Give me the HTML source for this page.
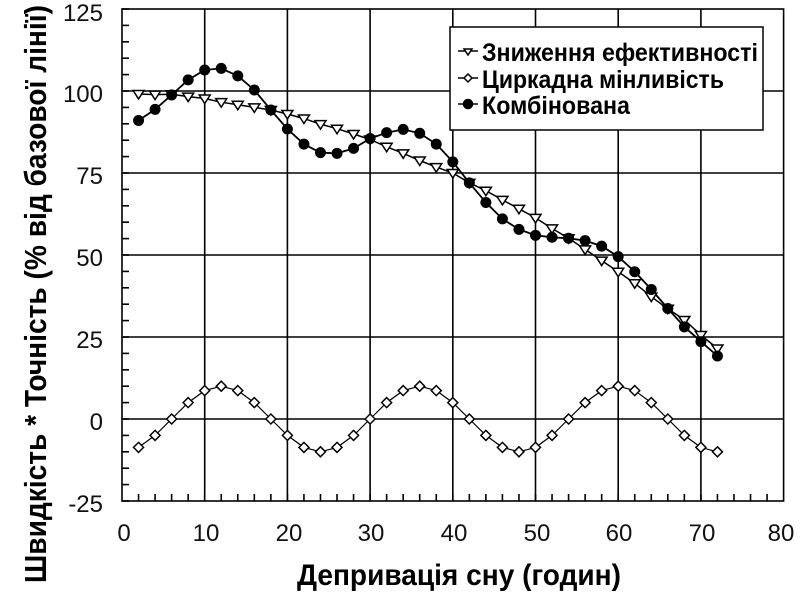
<!DOCTYPE html>
<html><head><meta charset="utf-8"><style>
html,body{margin:0;padding:0;background:#fff;}
svg{display:block;}
</style></head><body>
<svg id="s" width="800" height="597" viewBox="0 0 800 597" xmlns="http://www.w3.org/2000/svg">
<g id="grid" stroke="#000" stroke-width="1.6" fill="none"></g>
<g id="data"></g>
<g font-family="Liberation Sans, sans-serif" fill="#111" text-anchor="end">
<text x="103" y="21" style="font-size:24px">125</text>
<text x="103" y="102" style="font-size:24px">100</text>
<text x="103" y="184" style="font-size:24px">75</text>
<text x="103" y="266" style="font-size:24px">50</text>
<text x="103" y="348" style="font-size:24px">25</text>
<text x="103" y="430" style="font-size:24px">0</text>
<text x="103" y="512" style="font-size:24px">-25</text>
</g>
<g font-family="Liberation Sans, sans-serif" fill="#111" text-anchor="middle">
<text x="124" y="541" style="font-size:24px">0</text>
<text x="206" y="541" style="font-size:24px">10</text>
<text x="289" y="541" style="font-size:24px">20</text>
<text x="371" y="541" style="font-size:24px">30</text>
<text x="454" y="541" style="font-size:24px">40</text>
<text x="537" y="541" style="font-size:24px">50</text>
<text x="619" y="541" style="font-size:24px">60</text>
<text x="702" y="541" style="font-size:24px">70</text>
<text x="781" y="541" style="font-size:24px">80</text>
</g>
<text font-family="Liberation Sans, sans-serif" font-weight="bold" x="297" y="585" style="font-size:30px" textLength="324" lengthAdjust="spacingAndGlyphs">Депривація сну (годин)</text>
<text font-family="Liberation Sans, sans-serif" font-weight="bold" transform="translate(46,583) rotate(-90)" style="font-size:31px" textLength="578" lengthAdjust="spacingAndGlyphs">Швидкість * Точність (% від базової лінії)</text>
<rect x="450" y="27" width="313" height="103" fill="#fff" stroke="#000" stroke-width="1.5"/>
<g font-family="Liberation Sans, sans-serif" font-weight="bold">
<text x="482" y="61" style="font-size:25px" textLength="276" lengthAdjust="spacingAndGlyphs">Зниження ефективності</text>
<text x="482" y="88" style="font-size:25px" textLength="242" lengthAdjust="spacingAndGlyphs">Циркадна мінливість</text>
<text x="482" y="114" style="font-size:25px" textLength="148" lengthAdjust="spacingAndGlyphs">Комбінована</text>
</g>
<g stroke="#000" stroke-width="1.5">
<line x1="458" y1="51" x2="478" y2="51"/><polygon points="464,49 472,49 468,55" fill="#fff"/>
<line x1="458" y1="78" x2="478" y2="78"/><polygon points="468,74 472,78 468,82 464,78" fill="#fff"/>
<line x1="458" y1="104" x2="478" y2="104"/><circle cx="468" cy="104" r="4.5" fill="#000"/>
</g>
</svg>
<script>
var X=function(h){return 122+8.27*h}, Y=function(v){return 419-3.28*v};
var ns="http://www.w3.org/2000/svg";
function el(p,n,a){var e=document.createElementNS(ns,n);for(var k in a)e.setAttribute(k,a[k]);p.appendChild(e);return e;}
var g=document.getElementById('grid');
el(g,'rect',{x:X(0),y:Y(125),width:X(80)-X(0),height:Y(-25)-Y(125)});
[0,25,50,75,100].forEach(function(v){el(g,'line',{x1:X(0),x2:X(80),y1:Y(v),y2:Y(v)})});
for(var h=10;h<80;h+=10)el(g,'line',{x1:X(h),x2:X(h),y1:Y(125),y2:Y(-25)});
for(var v=-25;v<=125;v+=5)el(g,'line',{x1:X(0),x2:X(0)+7,y1:Y(v),y2:Y(v)});
for(var h=2;h<80;h+=2)el(g,'line',{x1:X(h),x2:X(h),y1:Y(-25),y2:Y(-25)-7});
var perf=[99.1,98.9,99,98.3,97.7,96.6,95.8,95,94.2,93,91.6,89.9,88.5,86.9,85.2,83,81,78.8,76.8,75,72,69.6,66.8,64.1,61.3,58.1,55.1,51.7,48.3,44.9,41.4,37.3,33.6,30.2,25.6,21.5];
var comb=[91,94.4,98.8,103.4,106.4,106.9,104.6,100.3,94.2,88.4,83.8,81.2,81,82.5,85.5,87.3,88.3,87.1,83.8,78.4,72,66,61,57.8,56,55.4,55.1,54.4,52.7,49.5,44.9,39.5,33.7,28.1,23.6,19.2];
var d=document.getElementById('data');
function line(arr,w){var p=arr.map(function(v,i){return X(2+2*i).toFixed(1)+','+Y(v).toFixed(1)}).join(' ');el(d,'polyline',{points:p,fill:'none',stroke:'#000','stroke-width':w});}
var circ=[];for(var i=0;i<36;i++){var h=2+2*i;circ.push(10*Math.sin(2*Math.PI*(h-6)/24));}
line(circ,1.2);line(perf,1.5);line(comb,1.8);
circ.forEach(function(v,i){var x=X(2+2*i),y=Y(v);el(d,'polygon',{points:x+','+(y-5)+' '+(x+5)+','+y+' '+x+','+(y+5)+' '+(x-5)+','+y,fill:'#fff',stroke:'#000','stroke-width':1.5});});
perf.forEach(function(v,i){var x=X(2+2*i),y=Y(v);el(d,'polygon',{points:(x-5.5)+','+(y-3.5)+' '+(x+5.5)+','+(y-3.5)+' '+x+','+(y+5),fill:'#fff',stroke:'#000','stroke-width':1.5});});
comb.forEach(function(v,i){el(d,'circle',{cx:X(2+2*i),cy:Y(v),r:5.5,fill:'#000'});});
</script>
</body></html>
